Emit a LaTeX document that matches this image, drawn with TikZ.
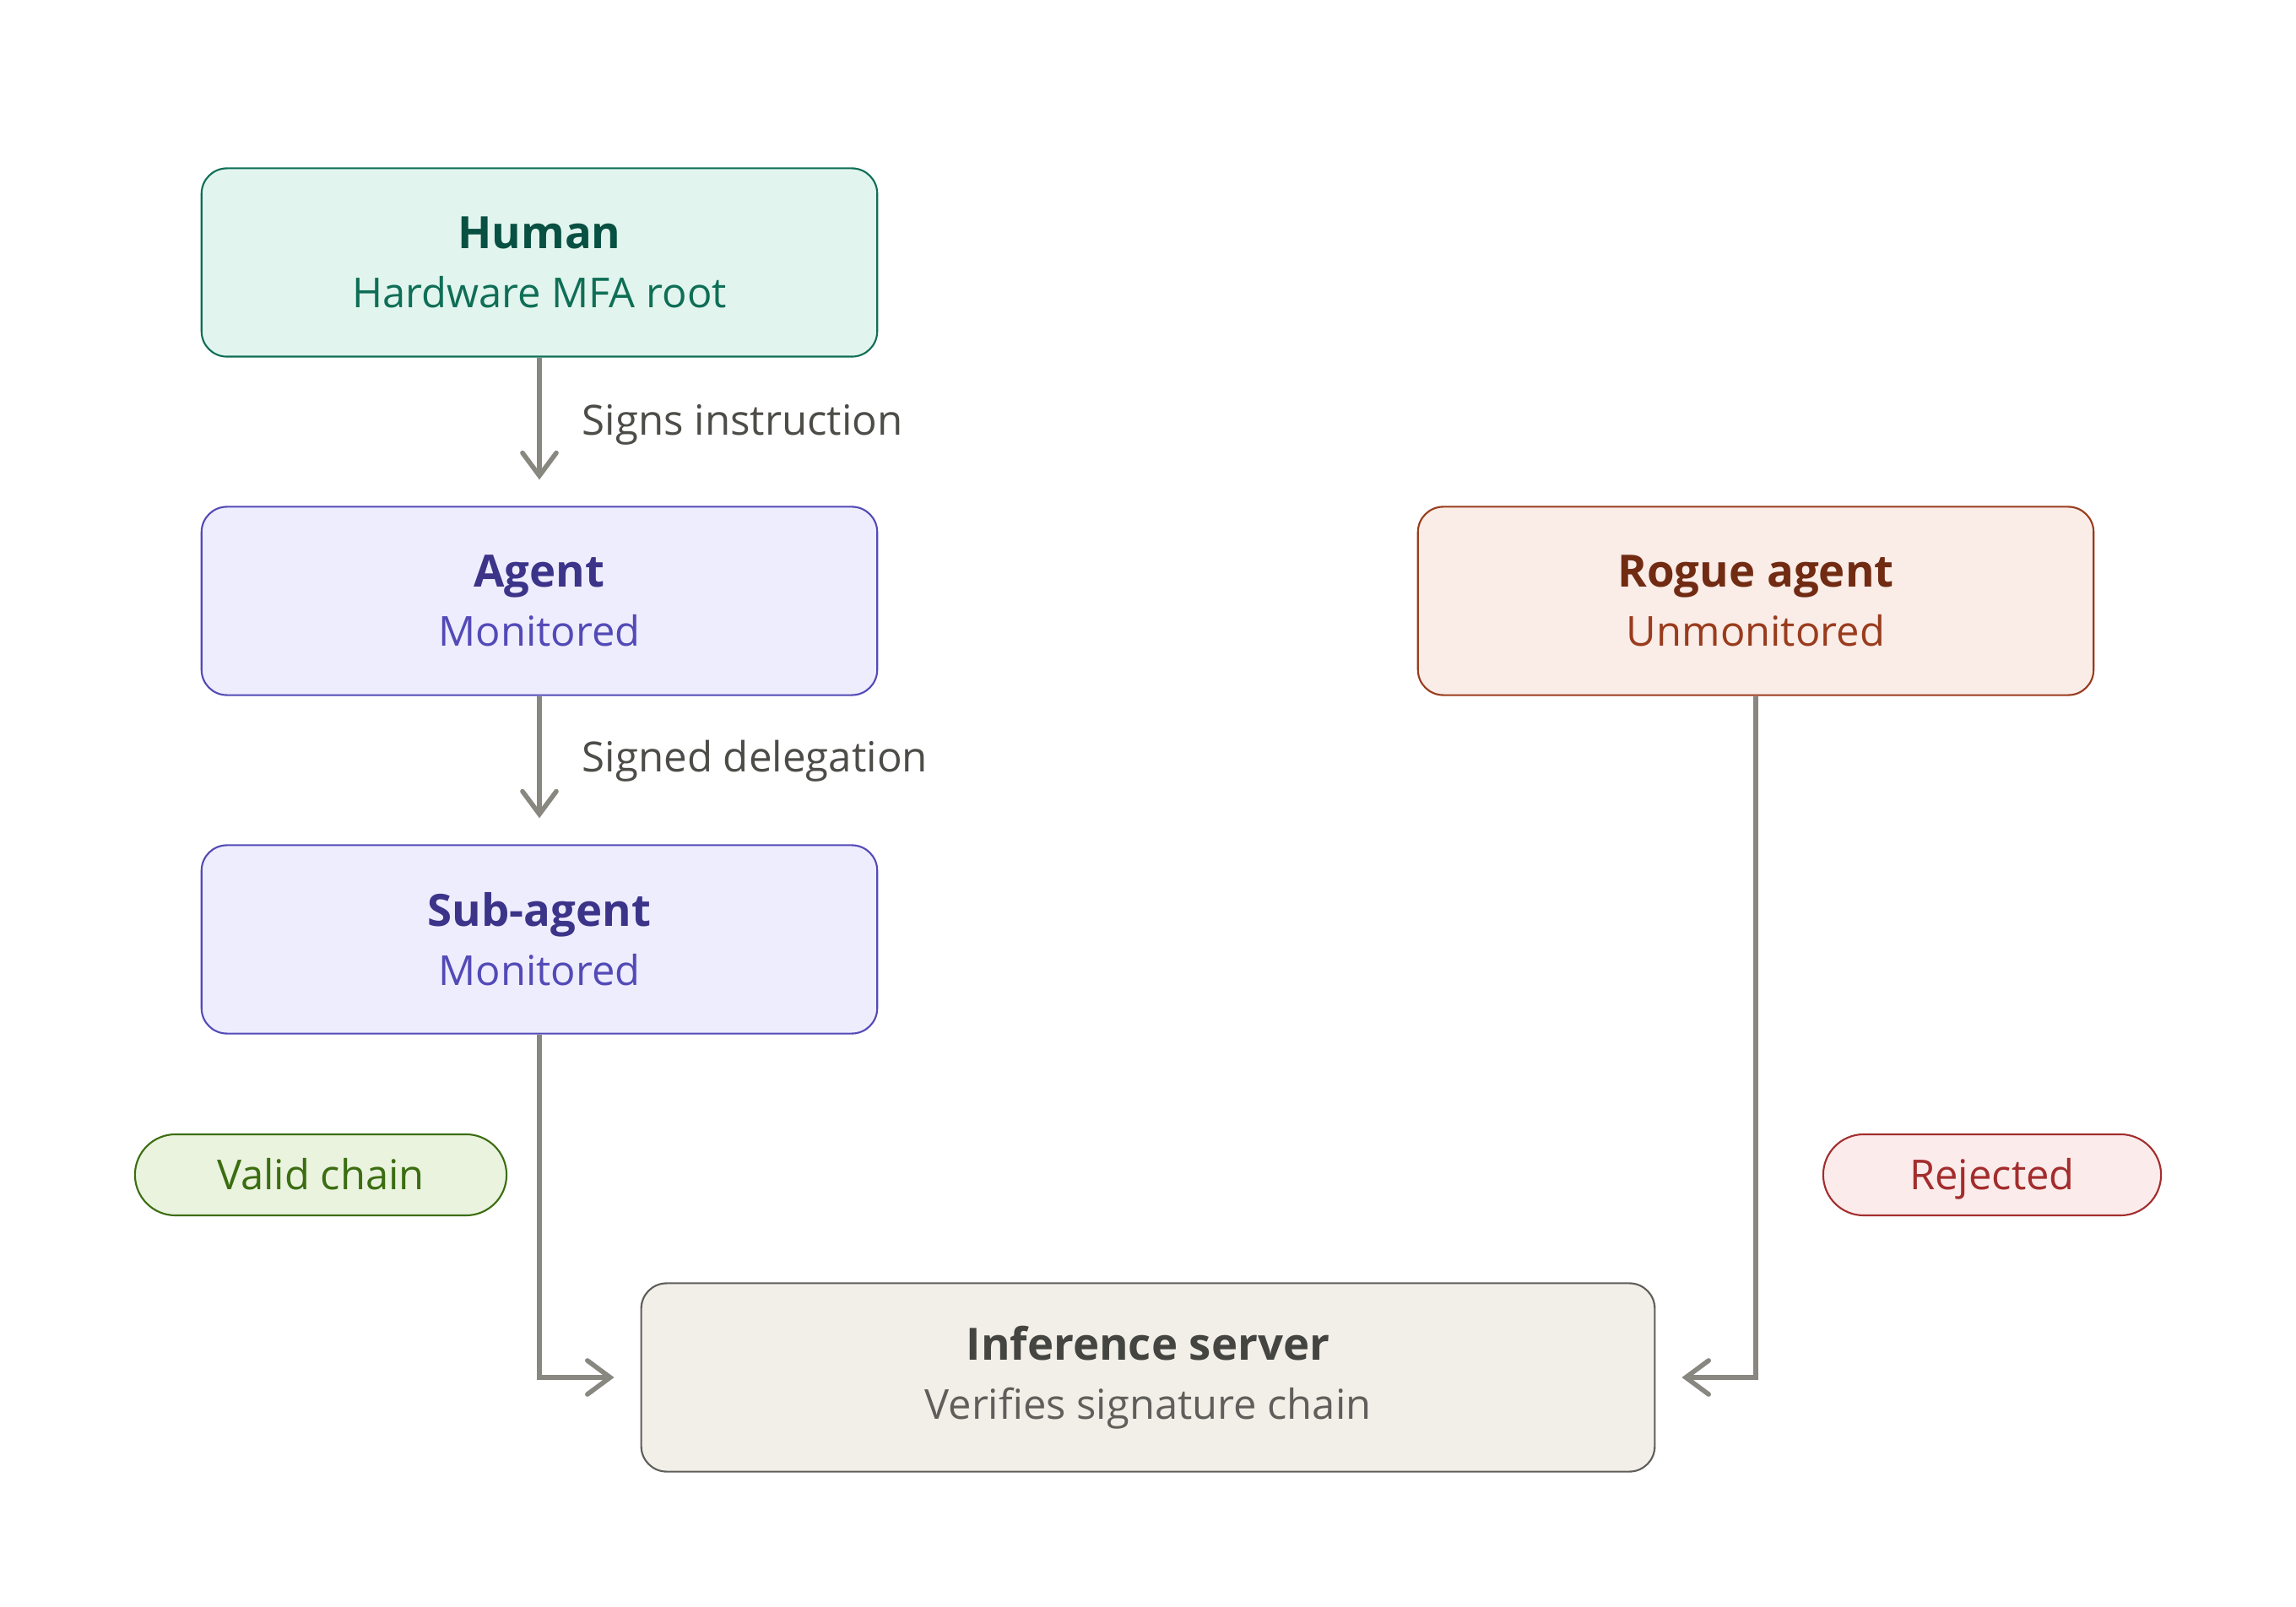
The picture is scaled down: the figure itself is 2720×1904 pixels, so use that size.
\documentclass[tikz,border=0pt]{standalone}
\usepackage{fontspec}
\setmainfont{Open Sans}
\usepackage{tikz}
\usepackage{xcolor}
\usetikzlibrary{arrows.meta}
\definecolor{humanline}{HTML}{0F6E56}
\definecolor{humanfill}{HTML}{E1F5EE}
\definecolor{humantitle}{HTML}{085041}
\definecolor{agentline}{HTML}{534AB7}
\definecolor{agentfill}{HTML}{EEEDFE}
\definecolor{agenttitle}{HTML}{3C3489}
\definecolor{rogueline}{HTML}{993C1D}
\definecolor{roguefill}{HTML}{FAECE7}
\definecolor{roguetitle}{HTML}{712B13}
\definecolor{serverline}{HTML}{5F5E5A}
\definecolor{serverfill}{HTML}{F1EFE8}
\definecolor{servertitle}{HTML}{444441}
\definecolor{validcolor}{HTML}{3B6D11}
\definecolor{validfill}{HTML}{EAF3DE}
\definecolor{rejectcolor}{HTML}{A32D2D}
\definecolor{rejectfill}{HTML}{FCEBEB}
\definecolor{arrowgray}{HTML}{888780}
\definecolor{labelgray}{HTML}{4D4C48}
\newcommand{\entity}[3]{% title, subtitle, title colour
{\fontsize{15}{19.8}\selectfont\bfseries\color{#3}#1}\\#2}
\tikzstyle{entitybox} = [
    rectangle,
    rounded corners=0.3cm,
    line width=0.6pt,
    minimum width=8cm,
    minimum height=2.23cm,
    inner sep=0pt,
    align=center,
    font=\fontsize{13.9}{19.8}\selectfont
    ]
\tikzstyle{humanbox} = [entitybox, draw=humanline, fill=humanfill, text=humanline]
\tikzstyle{agentbox} = [entitybox, draw=agentline, fill=agentfill, text=agentline]
\tikzstyle{roguebox} = [entitybox, draw=rogueline, fill=roguefill, text=rogueline]
\tikzstyle{serverbox} = [entitybox, draw=serverline, fill=serverfill, text=serverline, minimum width=12cm]
\tikzstyle{pill} = [
    rectangle,
    rounded corners=0.48cm,
    line width=0.6pt,
    minimum height=0.96cm,
    text height=10pt,
    text depth=0pt,
    font=\fontsize{13.9}{16}\selectfont
    ]
\tikzstyle{flow} = [
    draw=arrowgray,
    line width=1.6pt,
    -{Straight Barb[length=0.27cm, width=0.4cm, line cap=round]},
    shorten >=0.31cm
    ]
\tikzstyle{flowlabel} = [anchor=west, text=labelgray, inner sep=0pt, font=\fontsize{14}{16}\selectfont]

\begin{document}
\begin{tikzpicture}[x=0.01cm, y=-0.01cm]
\useasboundingbox (0,0) rectangle (2720,1904);

\node[humanbox] (human) at (639,311) {\entity{Human}{Hardware MFA root}{humantitle}};
\node[agentbox] (agent) at (639,712) {\entity{Agent}{Monitored}{agenttitle}};
\node[agentbox] (subagent) at (639,1113) {\entity{Sub-agent}{Monitored}{agenttitle}};
\node[roguebox] (rogue) at (2080,712) {\entity{Rogue agent}{Unmonitored}{roguetitle}};
\node[serverbox] (server) at (1360,1632) {\entity{Inference server}{Verifies signature chain}{servertitle}};

\node[pill, draw=validcolor, fill=validfill, text=validcolor, minimum width=4.4cm] (valid) at (380,1392) {Valid chain};
\node[pill, draw=rejectcolor, fill=rejectfill, text=rejectcolor, minimum width=4cm] (rejected) at (2360,1392) {Rejected};

\draw[flow] (human) -- (agent);
\node[flowlabel] (signs) at (689,503) {Signs instruction};
\draw[flow] (agent) -- (subagent);
\node[flowlabel] (delegation) at (689,902) {Signed delegation};

\draw[flow] (subagent) |- (server);
\draw[flow] (rogue) |- (server);
\end{tikzpicture}
\end{document}
